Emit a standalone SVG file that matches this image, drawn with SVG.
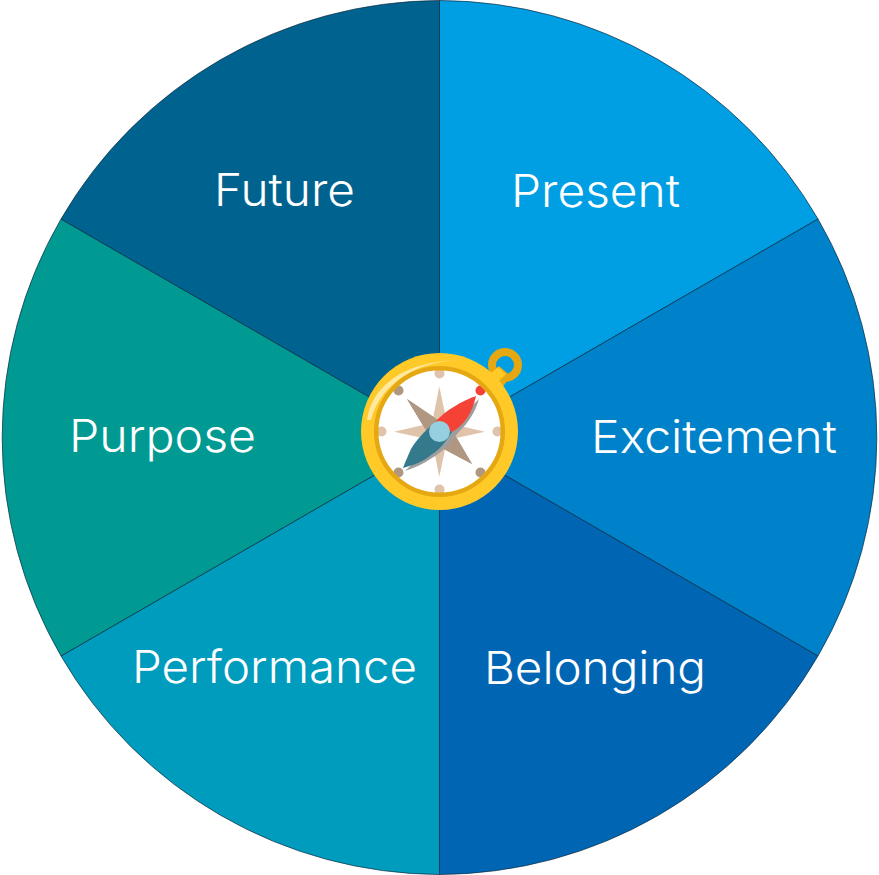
<svg xmlns="http://www.w3.org/2000/svg" width="879" height="875" viewBox="0 0 879 875">
<style>
.seg{stroke:#0b2a40;stroke-width:.7}
.lbl{font-family:"Inter","Liberation Sans",sans-serif;font-weight:300;font-size:45px;fill:#fff}
.t{fill:#dfc3ab}.d{fill:#b09782}
</style>
<g id="segments">
<g id="present"><path class="seg" fill="#009fe3" d="M439.500 437.500V.500A439 437 0 0 1 818 219Z"/><text class="lbl" x="511" y="207" textLength="169" lengthAdjust="spacingAndGlyphs">Present</text></g>
<g id="excitement"><path class="seg" fill="#0082ca" d="M439.500 437.500L818 219A439 437 0 0 1 818 656Z"/><text class="lbl" x="591" y="453" textLength="246" lengthAdjust="spacingAndGlyphs">Excitement</text></g>
<g id="belonging"><path class="seg" fill="#0066b3" d="M439.500 437.500L818 656A439 437 0 0 1 439.500 874.500Z"/><text class="lbl" x="484" y="684" textLength="222" lengthAdjust="spacingAndGlyphs">Belonging</text></g>
<g id="performance"><path class="seg" fill="#009cbd" d="M439.500 437.500V874.500A439 437 0 0 1 61 656Z"/><text class="lbl" x="132" y="683" textLength="285" lengthAdjust="spacingAndGlyphs">Performance</text></g>
<g id="purpose"><path class="seg" fill="#009a93" d="M439.500 437.500L61 656A439 437 0 0 1 61 219Z"/><text class="lbl" x="69" y="452" textLength="187" lengthAdjust="spacingAndGlyphs">Purpose</text></g>
<g id="future"><path class="seg" fill="#00638f" d="M439.500 437.500L61 219A439 437 0 0 1 439.500 .500Z"/><text class="lbl" x="214" y="206" textLength="141" lengthAdjust="spacingAndGlyphs">Future</text></g>
</g>
<g id="compass">
<circle cx="505" cy="365" r="13" fill="none" stroke="#e5a812" stroke-width="8"/>
<path d="M489 379l10-13 12 10-10 13z" fill="#e5a812"/>
<path d="M491 373l7-6 8 7-7 7z" fill="#ffc928"/>
<circle cx="439.500" cy="431.500" r="78.500" fill="#ffc928"/>
<path d="M367 420C372 385 405 361 460 360C415 361 380 385 371 420Z" fill="#ffe9a0"/>
<circle cx="439.500" cy="431.500" r="62" fill="#fff"/>
<g class="t"><circle cx="439.500" cy="373.500" r="5"/><circle cx="439.500" cy="489.500" r="5"/><circle cx="381.500" cy="431.500" r="5"/><circle cx="497.500" cy="431.500" r="5"/></g>
<g class="d"><circle cx="398.500" cy="390.500" r="5"/><circle cx="398.500" cy="472.500" r="5"/><circle cx="480.500" cy="472.500" r="5"/></g>
<circle cx="480.500" cy="390.500" r="5" fill="#f44336"/>
<circle cx="439.500" cy="431.500" r="63.300" fill="none" stroke="#e5a812" stroke-width="4.500"/>
<path class="d" d="M407 399L438 420L452 430L472 464L440 447L430 437Z"/>
<path class="t" d="M439.300 386.500L447 423L485 431.700L447 440L439.300 476.700L432 440L394 431.700L432 423Z"/>
<path class="d" d="M407 399L438 420L430 437Z"/><path class="d" d="M472 464L452 430L440 447Z"/>
<path d="M479 399C475 412 470 421 457 434C450 444 442 452 432 458C423 464 414 468 405 471Z" fill="#9e9e9e"/>
<path d="M476 396C462 401 446 410 435 422L452 432C464 425 472 414 476 396Z" fill="#f44336"/>
<path d="M435 422C424 432 416 440 411 449C408 456 405 462 403 468C414 465 424 461 431 455C439 450 446 442 452 432Z" fill="#35798c"/>
<circle cx="439.500" cy="431.500" r="10.500" fill="#95cfe0"/>
</g>
</svg>
